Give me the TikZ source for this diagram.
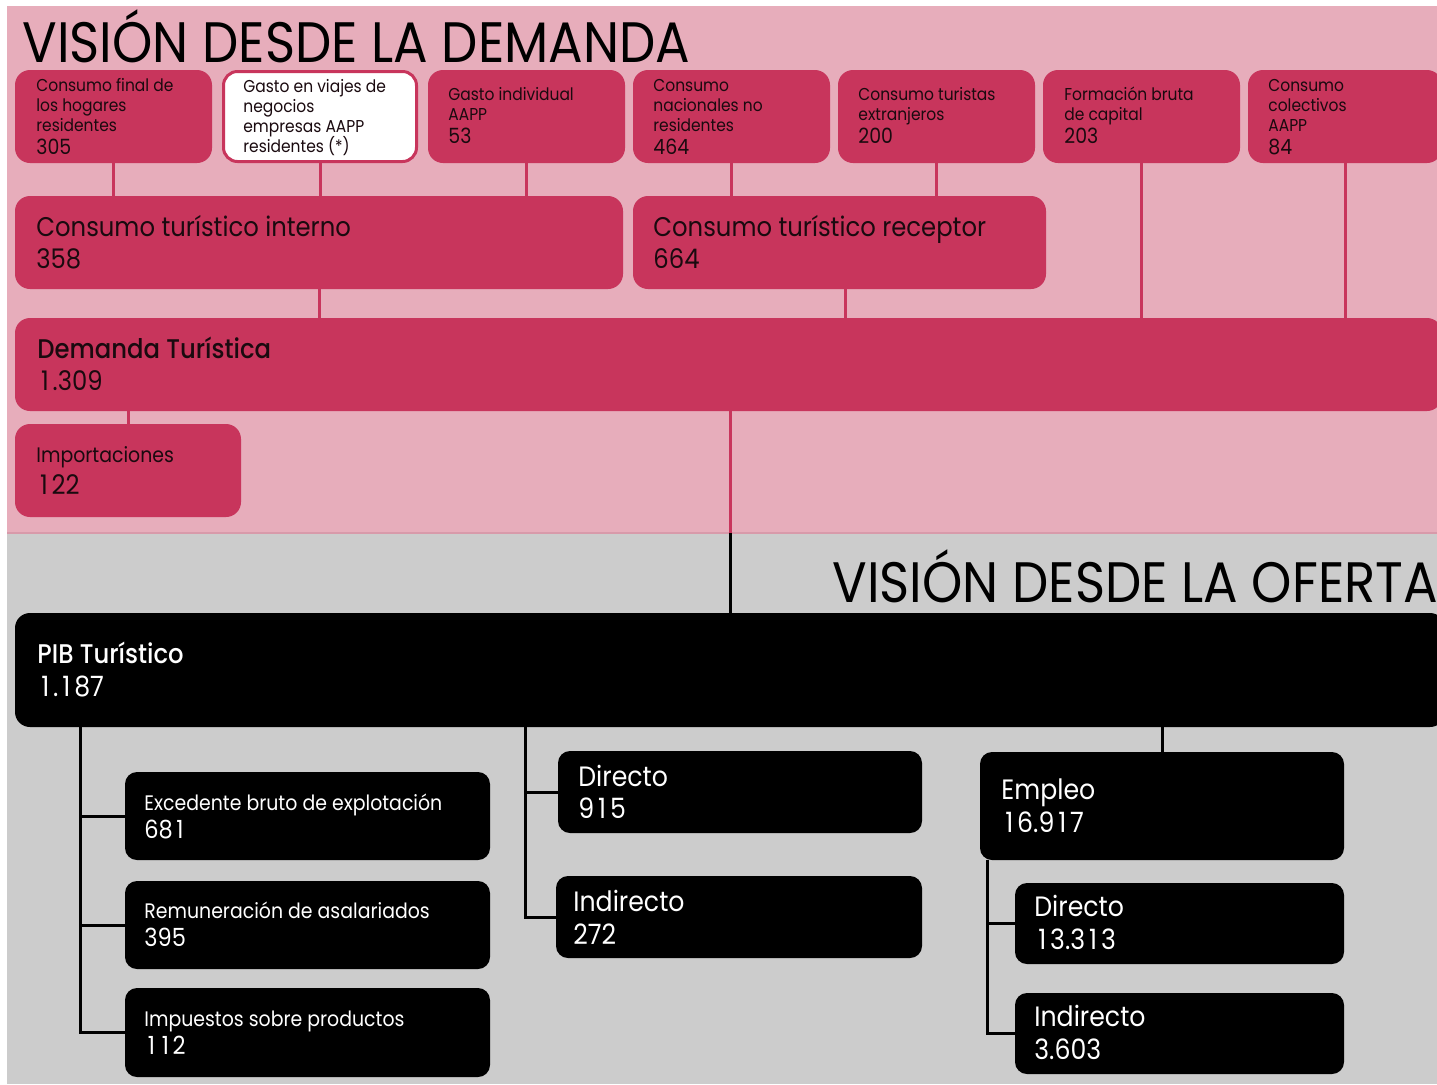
\documentclass[tikz,border=0pt]{standalone}
\usepackage{fontspec}
\setmainfont[FakeStretch=0.9]{Poppins}
\newfontfamily\medfont[FakeStretch=0.9]{Poppins Medium}
\usetikzlibrary{fit}
\definecolor{pinkbg}{HTML}{E7ADBB}
\definecolor{crim}{HTML}{C8355C}
\definecolor{greybg}{HTML}{CCCCCC}
\definecolor{sepline}{HTML}{D89AAA}
\definecolor{ink}{HTML}{1A0A0F}
\newcommand\txl[5]{\node[anchor=base west,inner sep=0pt,#4] (#1) at (#2,#3) {#5};}
\newcommand\onew{\makebox[\fontcharwd\font`\0][c]{1}}
\begin{document}
\begin{tikzpicture}[x=0.5pt,y=-0.5pt,
  cbox/.style={fill=crim, rounded corners=7.5pt, inner sep=0pt},
  wbox/.style={fill=white, draw=crim, line width=1.5pt, rounded corners=7pt, inner sep=0pt},
  kbox/.style={fill=black, rounded corners=6pt, inner sep=0pt},
  cline/.style={draw=crim, line width=1.5pt},
  kline/.style={draw=black, line width=1.5pt},
  ts/.style={text=ink, font=\fontsize{8.6}{10}\selectfont},
  tn/.style={text=ink, font=\fontsize{10.5}{12}\selectfont},
  mt/.style={text=ink, font=\fontsize{13.5}{16}\selectfont},
  mb/.style={text=ink, font=\fontsize{13.5}{15}\medfont},
  wt/.style={text=white, font=\fontsize{10.5}{12}\selectfont},
  wn/.style={text=white, font=\fontsize{12.5}{14}\selectfont},
  wl/.style={text=white, font=\fontsize{14}{16}\selectfont},
  wb/.style={text=white, font=\fontsize{13.5}{15}\medfont},
  ttl/.style={text=black, font=\fontsize{28.5}{30}\selectfont}
]
\clip (0,0) rectangle (1437,1084);
% backgrounds
\fill[white] (0,0) rectangle (1437,1084);
\fill[pinkbg] (7,6) rectangle (1437,533);
\fill[greybg] (7,533) rectangle (1437,1084);
\draw[sepline, line width=1pt] (7,533) -- (1437,533);

% demand side boxes
\node[cbox, fit={(15,70)(212,163)}] (b1) {};
\node[wbox, fit={(223.5,71.5)(416.5,161.5)}] (b2) {};
\node[cbox, fit={(428,70)(625,163)}] (b3) {};
\node[cbox, fit={(633,70)(830,163)}] (b4) {};
\node[cbox, fit={(838,70)(1035,163)}] (b5) {};
\node[cbox, fit={(1043,70)(1240,163)}] (b6) {};
\node[cbox, fit={(1248,70)(1442,163)}] (b7) {};
\node[cbox, fit={(15,196)(623,289)}] (cti) {};
\node[cbox, fit={(633,196)(1046,289)}] (ctr) {};
\node[cbox, fit={(15,318)(1442,411)}] (dem) {};
\node[cbox, fit={(15,424)(241,517)}] (imp) {};

% supply side boxes
\node[kbox, rounded corners=7.5pt, fit={(15,613)(1445,727)}] (pib) {};
\node[kbox, fit={(125,772)(490,860)}] (exc) {};
\node[kbox, fit={(125,881)(490,969)}] (rem) {};
\node[kbox, fit={(125,988)(490,1077)}] (imt) {};
\node[kbox, fit={(558,751)(922,833)}] (pd) {};
\node[kbox, fit={(556,876)(922,958)}] (pi) {};
\node[kbox, fit={(980,752)(1344,860)}] (emp) {};
\node[kbox, fit={(1015,883)(1344,964)}] (ed) {};
\node[kbox, fit={(1015,993)(1344,1074)}] (ei) {};

% connectors (demand)
\draw[cline] (b1.south) -- (b1.south |- cti.north);
\draw[cline] (b2.south) -- (b2.south |- cti.north);
\draw[cline] (b3.south) -- (b3.south |- cti.north);
\draw[cline] (b4.south) -- (b4.south |- ctr.north);
\draw[cline] (b5.south) -- (b5.south |- ctr.north);
\draw[cline] (b6.south) -- (b6.south |- dem.north);
\draw[cline] (b7.south) -- (b7.south |- dem.north);
\draw[cline] (cti.south) -- (cti.south |- dem.north);
\coordinate (rx) at (845,0);
\draw[cline] (ctr.south -| rx) -- (dem.north -| rx);
\draw[cline] (dem.south -| imp.north) -- (imp.north);
\coordinate (dx) at (730,533);
\draw[cline] (dem.south -| dx) -- (dx);
\draw[kline] (dx) -- (pib.north -| dx);

% connectors (supply)
\coordinate (ax) at (80,0);
\draw[kline] (pib.south -| ax) |- (imt.west);
\draw[kline] (ax |- exc.west) -- (exc.west);
\draw[kline] (ax |- rem.west) -- (rem.west);
\coordinate (bx) at (525,0);
\draw[kline] (pib.south -| bx) |- (pi.west);
\draw[kline] (bx |- pd.west) -- (pd.west);
\draw[kline] (pib.south -| emp.north) -- (emp.north);
\coordinate (cx) at (987,0);
\draw[kline] (emp.south -| cx) |- (ei.west);
\draw[kline] (cx |- ed.west) -- (ed.west);

% titles
\txl{tdem}{22}{62}{ttl}{VISIÓN DESDE LA DEMANDA}
\txl{tofe}{832}{602}{ttl}{VISIÓN DESDE LA OFERTA}

% top row texts
\txl{b1a}{36}{91}{ts}{Consumo final de}
\txl{b1b}{36}{111}{ts}{los hogares}
\txl{b1c}{36}{131}{ts}{residentes}
\txl{b1d}{36}{154}{tn}{305}
\txl{b2a}{243}{92}{ts}{Gasto en viajes de}
\txl{b2b}{243}{112}{ts}{negocios}
\txl{b2c}{243}{132}{ts}{empresas AAPP}
\txl{b2d}{243}{152}{ts}{residentes (*)}
\txl{b3a}{448}{100}{ts}{Gasto individual}
\txl{b3b}{448}{120}{ts}{AAPP}
\txl{b3c}{448}{143}{tn}{53}
\txl{b4a}{653}{91}{ts}{Consumo}
\txl{b4b}{653}{111}{ts}{nacionales no}
\txl{b4c}{653}{131}{ts}{residentes}
\txl{b4d}{653}{154}{tn}{464}
\txl{b5a}{858}{100}{ts}{Consumo turistas}
\txl{b5b}{858}{120}{ts}{extranjeros}
\txl{b5c}{858}{143}{tn}{200}
\txl{b6a}{1064}{100}{ts}{Formación bruta}
\txl{b6b}{1064}{120}{ts}{de capital}
\txl{b6c}{1064}{143}{tn}{203}
\txl{b7a}{1268}{91}{ts}{Consumo}
\txl{b7b}{1268}{111}{ts}{colectivos}
\txl{b7c}{1268}{131}{ts}{AAPP}
\txl{b7d}{1268}{154}{tn}{84}

% middle
\txl{ctia}{36}{236}{mt}{Consumo turístico interno}
\txl{ctib}{36}{268}{mt}{358}
\txl{ctra}{653}{236}{mt}{Consumo turístico receptor}
\txl{ctrb}{653}{268}{mt}{664}
\txl{dema}{37}{358}{mb}{Demanda Turística}
\txl{demb}{37}{390}{mt}{\onew.309}
\txl{impa}{36}{462}{ts, font=\fontsize{10.5}{12}\selectfont}{Importaciones}
\txl{impb}{36}{494}{mt}{\onew22}

% supply texts
\txl{piba}{37}{663}{wb}{PIB Turístico}
\txl{pibb}{37}{696}{wl}{\onew.\onew87}
\txl{exca}{144}{810}{wt}{Excedente bruto de explotación}
\txl{excb}{144}{838}{wn}{68\onew}
\txl{rema}{144}{918}{wt}{Remuneración de asalariados}
\txl{remb}{144}{946}{wn}{395}
\txl{imta}{144}{1026}{wt}{Impuestos sobre productos}
\txl{imtb}{144}{1054}{wn}{\onew\onew2}
\txl{pda}{578}{786}{wl}{Directo}
\txl{pdb}{578}{818}{wl}{9\onew5}
\txl{pia}{573}{911}{wl}{Indirecto}
\txl{pib2}{573}{944}{wl}{272}
\txl{empa}{1001}{799}{wl}{Empleo}
\txl{empb}{1001}{832}{wl}{\onew6.9\onew7}
\txl{eda}{1034}{916}{wl}{Directo}
\txl{edb}{1034}{949}{wl}{\onew3.3\onew3}
\txl{eia}{1034}{1026}{wl}{Indirecto}
\txl{eib}{1034}{1059}{wl}{3.603}
\end{tikzpicture}
\end{document}
